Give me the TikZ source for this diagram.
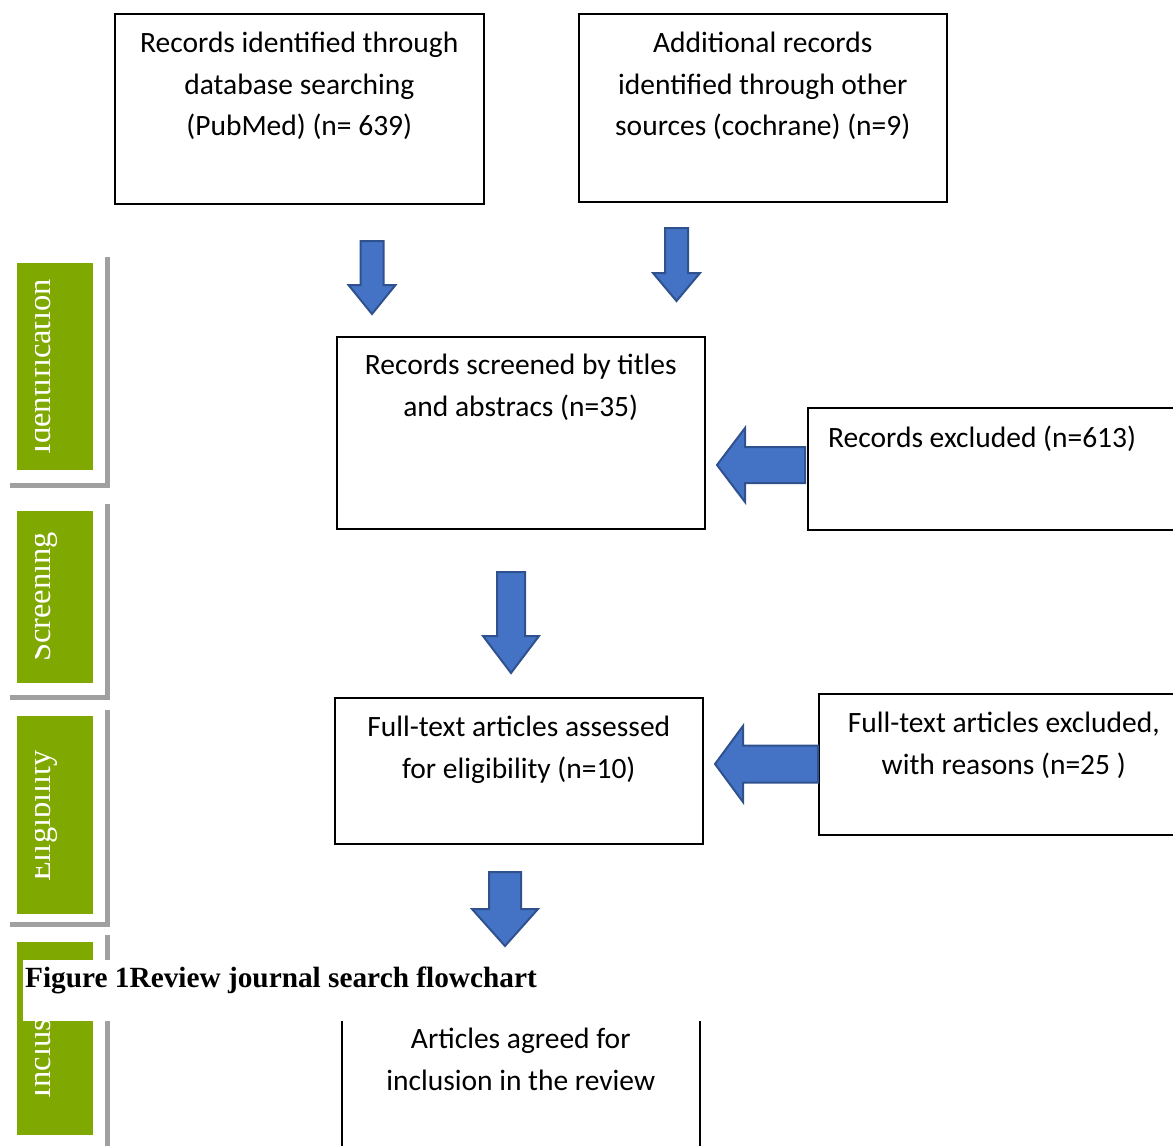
\documentclass[tikz,border=0pt]{standalone}
\usepackage{fontspec}
\usetikzlibrary{positioning}
\newfontfamily\carlito{Carlito}
\newfontfamily\timesfont{Liberation Serif}
\definecolor{phasegreen}{RGB}{127,169,0}
\definecolor{arrowblue}{RGB}{68,114,196}
\definecolor{arrowedge}{RGB}{47,82,143}
\definecolor{bracketgray}{RGB}{160,160,160}
\tikzset{
  box/.style={draw, line width=1.5pt, rectangle, inner sep=0pt, anchor=north west},
  txt/.style={align=center, inner sep=0pt, font=\carlito\fontsize{29.5}{41.5}\selectfont,
    execute at begin node={\rule{0pt}{24pt}}},
  blockarrow/.style={fill=arrowblue, draw=arrowedge, line width=2pt, line join=miter},
  phase/.style={text=white, inner sep=0pt, rotate=90, anchor=base,
    font=\timesfont\fontsize{32.5}{32.5}\selectfont},
  bracket/.style={draw=bracketgray, line width=4.5pt},
  captiontxt/.style={inner sep=0pt, anchor=base west, font=\timesfont\bfseries\fontsize{29.3}{29.3}\selectfont}
}
% centre x, shaft half, head half, top y, head y, tip y
\newcommand{\blockdown}[6]{\draw[blockarrow] (#1-#2,#4) -- (#1+#2,#4) -- (#1+#2,#5) -- (#1+#3,#5) -- (#1,#6) -- (#1-#3,#5) -- (#1-#2,#5) -- cycle;}
% centre y, shaft half, head half, tail x, head x, tip x
\newcommand{\blockleft}[6]{\draw[blockarrow] (#4,#1-#2) -- (#4,#1+#2) -- (#5,#1+#2) -- (#5,#1+#3) -- (#6,#1) -- (#5,#1-#3) -- (#5,#1-#2) -- cycle;}
\begin{document}
\begin{tikzpicture}[x=1pt, y=-1pt]
    \clip (0,0) rectangle (1173,1146);

    % boxes
    \node[box, minimum width=369pt, minimum height=190pt] (db) at (114,13) {};
    \node[txt, below=19pt of db.north] (dbtext) {Records identified through\\database searching\\(PubMed) (n= 639)};
    \node[box, minimum width=368pt, minimum height=188pt] (other) at (578,13) {};
    \node[txt, below=19pt of other.north] (othertext) {Additional records\\identified through other\\sources (cochrane) (n=9)};

    \node[box, minimum width=368pt, minimum height=192pt] (screened) at (336,336) {};
    \node[txt, below=18pt of screened.north] (screenedtext) {Records screened by titles\\and abstracs (n=35)};
    \node[box, minimum width=390pt, minimum height=122pt] (excl1) at (807,407) {};
    \node[txt, anchor=north west, below right=16pt and 21pt of excl1.north west] (excl1text) {Records excluded (n=613)};

    \node[box, minimum width=368pt, minimum height=146pt] (assessed) at (334,697) {};
    \node[txt, below=19pt of assessed.north] (assessedtext) {Full-text articles assessed\\for eligibility (n=10)};
    \node[box, minimum width=370pt, minimum height=141pt] (excl2) at (818,693) {};
    \node[txt, below=19pt of excl2.north] (excl2text) {Full-text articles excluded,\\with reasons (n=25 )};

    \node[box, minimum width=358pt, minimum height=170pt] (agreed) at (341,1008) {};
    \node[txt, below=20pt of agreed.north] (agreedtext) {Articles agreed for\\inclusion in the review};

    % block arrows
    \blockdown{372}{11.5}{23.5}{241}{285}{314}
    \blockdown{676.5}{11.5}{23.5}{228}{273}{301}
    \blockdown{511}{14}{28}{572}{636}{673}
    \blockdown{505}{16}{33}{872}{909}{946}
    \blockleft{465}{18}{37}{805}{745}{717}
    \blockleft{764}{18.5}{38}{818}{743}{715}

    % phase labels
    \fill[phasegreen] (17,263) rectangle (93,470);
    \begin{scope}
        \clip (35.5,263) rectangle (93,470);
        \node[phase] (ident) at (50,367) {Identification};
    \end{scope}
    \draw[bracket] (107.5,257) -- (107.5,485.5) -- (10,485.5);

    \fill[phasegreen] (17,511) rectangle (93,683);
    \begin{scope}
        \clip (35.5,511) rectangle (93,683);
        \node[phase] (screen) at (50,597) {Screening};
    \end{scope}
    \draw[bracket] (107.5,504) -- (107.5,697.5) -- (10,697.5);

    \fill[phasegreen] (17,716) rectangle (93,914);
    \begin{scope}
        \clip (35.5,716) rectangle (93,914);
        \node[phase] (elig) at (50,816) {Eligibility};
    \end{scope}
    \draw[bracket] (107.5,710) -- (107.5,924.5) -- (10,924.5);

    \fill[phasegreen] (17,942) rectangle (93,1135);
    \begin{scope}
        \clip (35.5,942) rectangle (93,1135);
        \node[phase] (incl) at (50,1038) {Inclusion};
    \end{scope}
    \draw[bracket] (107.5,935) -- (107.5,1160);

    % caption over the chart
    \fill[white] (23,960) rectangle (760,1021);
    \node[captiontxt] (caption) at (25,987) {Figure 1Review journal search flowchart};
\end{tikzpicture}
\end{document}
